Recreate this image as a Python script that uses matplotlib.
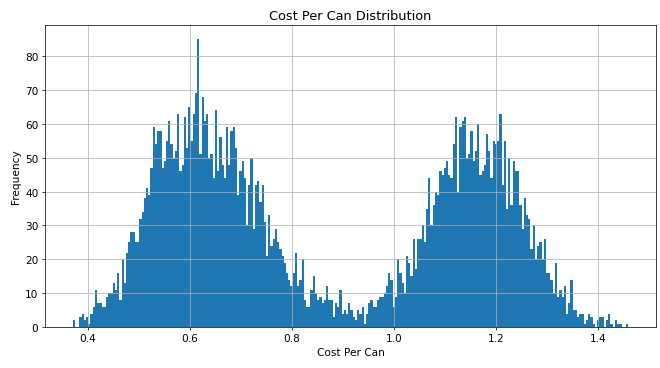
import numpy as np
import matplotlib
matplotlib.use("Agg")
import matplotlib.pyplot as plt

# histogram: 250 equal bins between the min and max cost per can
cost_min = 0.3699
cost_max = 1.4594

bin_counts = [
    # 0.37 - 0.53
    2, 0, 0, 3, 4, 2, 3, 1, 4, 6, 11, 7, 7, 6, 6, 9, 10, 10, 13, 11,
    16, 8, 20, 13, 22, 25, 28, 28, 25, 25, 32, 34, 38, 41, 39, 47,
    # 0.53 - 0.61
    59, 54, 58, 58, 47, 49, 55, 61, 54, 50, 52, 63, 46, 48, 62, 53, 65, 55,
    # 0.61 - 0.80
    63, 69, 85, 51, 68, 61, 63, 50, 51, 44,
    64, 46, 56, 48, 44, 59, 48, 58, 59, 53,
    39, 46, 49, 44, 30, 42, 50, 29, 42, 43,
    37, 42, 31, 21, 33, 24, 26, 29, 25, 23,
    21, 19, 16, 14,
    # 0.80 - 1.01 (valley)
    12, 16, 22, 12, 14, 20, 8, 6, 6, 11,
    15, 10, 8, 9, 7, 8, 12, 8, 8, 3,
    7, 6, 11, 4, 5, 4, 7, 5, 3, 2,
    5, 4, 6, 1, 4, 7, 8, 6, 6, 8,
    9, 9, 10, 12, 16, 14, 6, 9, 20,
    # 1.01 - 1.23
    16, 13, 10, 21, 19, 15, 26, 17, 26, 26,
    30, 25, 35, 44, 30, 36, 40, 39, 46, 45,
    47, 49, 45, 44, 54, 62, 40, 59, 61, 62,
    50, 51, 58, 49, 52, 60, 45, 46, 48, 57,
    52, 44, 55, 54, 55, 63, 42, 55, 35, 50,
    # 1.23 - 1.46
    36, 49, 46, 46, 36, 29, 38, 33, 32, 23,
    30, 20, 24, 25, 20, 26, 16, 16, 14, 10,
    19, 9, 11, 9, 12, 4, 7, 14, 5, 5,
    3, 4, 4, 1, 2, 4, 3, 1, 0, 2,
    3, 3, 0, 2, 4, 1, 0, 2, 1, 1,
    0, 0, 1,
]

title = "Cost Per Can Distribution"
x_label = "Cost Per Can"
y_label = "Frequency"

counts = np.array(bin_counts, dtype=float)
edges = np.linspace(cost_min, cost_max, len(counts) + 1)
centers = (edges[:-1] + edges[1:]) / 2

plt.rcParams["font.size"] = 11.5

fig = plt.figure(figsize=(10, 5.59), dpi=66)
ax = fig.add_subplot(111)
fig.subplots_adjust(left=0.068, right=0.994, bottom=0.111, top=0.930)

ax.hist(centers, bins=edges, weights=counts, color="#1f77b4")
ax.grid(True)
ax.set_title(title, fontsize=14)
ax.set_xlabel(x_label)
ax.set_ylabel(y_label)

fig.savefig("out.png", dpi=66)
plt.close(fig)
